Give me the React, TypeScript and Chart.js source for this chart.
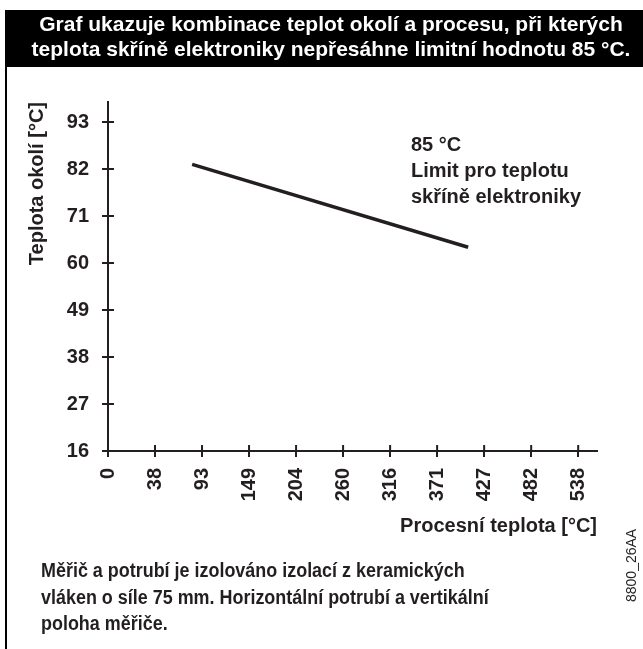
import React, { useEffect, useRef } from "react";
import { Chart, registerables } from "chart.js";

Chart.register(...registerables);

// ---- data ----
const xTickLabels = ["0", "38", "93", "149", "204", "260", "316", "371", "427", "482", "538"];
const yTickValues = [16, 27, 38, 49, 60, 71, 82, 93];
// limit line, x in tick-index units of the process-temperature axis, y in °C ambient
const limitLineX = [1.79, 7.66];
const limitLineY = [83.1, 63.7];

const headerLines = [
  "Graf ukazuje kombinace teplot okolí a procesu, při kterých",
  "teplota skříně elektroniky nepřesáhne limitní hodnotu 85 °C.",
];
const annotationLines = ["85 °C", "Limit pro teplotu", "skříně elektroniky"];
const noteLines = [
  "Měřič a potrubí je izolováno izolací z keramických",
  "vláken o síle 75 mm. Horizontální potrubí a vertikální",
  "poloha měřiče.",
];
const xAxisTitle = "Procesní teplota [°C]";
const yAxisTitle = "Teplota okolí [°C]";
const figureCode = "8800_26AA";

// ---- styles ----
const INK = "#231f20";
const FAMILY = "'Liberation Sans', Arial, Helvetica, sans-serif";

const decorPlugin = {
  id: "decor",
  afterDraw(chart: any) {
    const ctx = chart.ctx as CanvasRenderingContext2D;
    const xs = chart.scales.x;
    const ys = chart.scales.y;
    ctx.save();
    // inward halves of the tick marks
    ctx.strokeStyle = INK;
    ctx.lineWidth = 2;
    ctx.beginPath();
    yTickValues.forEach((v) => {
      const py = ys.getPixelForValue(v);
      ctx.moveTo(xs.left, py);
      ctx.lineTo(xs.left + 6, py);
    });
    xTickLabels.forEach((_, i) => {
      const px = xs.getPixelForValue(i);
      ctx.moveTo(px, ys.bottom);
      ctx.lineTo(px, ys.bottom - 6);
    });
    ctx.stroke();

    // header bar
    ctx.fillStyle = "#000";
    ctx.fillRect(5, 10, 643 - 5, 57);
    // left frame line
    ctx.fillRect(5, 10, 2, 649 - 10);

    ctx.fillStyle = "#fff";
    ctx.font = `bold 21px ${FAMILY}`;
    ctx.textAlign = "center";
    ctx.textBaseline = "alphabetic";
    ctx.fillText(headerLines[0], 331, 31);
    ctx.fillText(headerLines[1], 331, 56);

    // annotation
    ctx.fillStyle = INK;
    ctx.font = `bold 20px ${FAMILY}`;
    ctx.textAlign = "left";
    annotationLines.forEach((t, i) => ctx.fillText(t, 411, 151 + i * 26));

    // note (slightly condensed face)
    ctx.font = `bold 19.5px ${FAMILY}`;
    noteLines.forEach((t, i) => {
      ctx.save();
      ctx.translate(41, 577 + i * 26.5);
      ctx.scale(0.92, 1);
      ctx.fillText(t, 0, 0);
      ctx.restore();
    });

    // figure code
    ctx.font = `14px ${FAMILY}`;
    ctx.translate(636, 602);
    ctx.rotate(-Math.PI / 2);
    ctx.textAlign = "left";
    ctx.fillText(figureCode, 0, 0);
    ctx.restore();
  },
};

export default function App() {
  const ref = useRef<HTMLCanvasElement | null>(null);
  useEffect(() => {
    if (!ref.current) return;
    const tickFont = { family: FAMILY, size: 20, weight: "bold" as const };
    const chart = new Chart(ref.current, {
      type: "line",
      data: {
        datasets: [
          {
            data: limitLineX.map((x, i) => ({ x, y: limitLineY[i] })),
            borderColor: INK,
            borderWidth: 3.5,
            pointRadius: 0,
            fill: false,
            tension: 0,
            borderCapStyle: "butt",
          },
        ],
      },
      options: {
        responsive: false,
        animation: false,
        devicePixelRatio: 1,
        layout: { padding: { left: 0, right: 46, top: 102, bottom: 0 } },
        plugins: {
          legend: { display: false },
          tooltip: { enabled: false },
        },
        scales: {
          x: {
            type: "linear",
            min: 0,
            max: 10.4,
            afterBuildTicks: (s: any) => {
              s.ticks = xTickLabels.map((_, i) => ({ value: i }));
            },
            afterFit: (s: any) => {
              s.height = 198;
            },
            ticks: {
              autoSkip: false,
              minRotation: 90,
              maxRotation: 90,
              padding: 11,
              color: INK,
              font: tickFont,
              callback: (v: any) => xTickLabels[Math.round(Number(v))] ?? "",
            },
            grid: { display: true, drawOnChartArea: false, drawTicks: true, tickLength: 6, color: INK, lineWidth: 2 },
            border: { display: true, color: INK, width: 2 },
            title: {
              display: true,
              text: xAxisTitle,
              align: "end",
              color: INK,
              font: tickFont,
              padding: { top: 0, bottom: 111 },
            },
          },
          y: {
            type: "linear",
            min: 16,
            max: 97.7,
            afterBuildTicks: (s: any) => {
              s.ticks = yTickValues.map((v) => ({ value: v }));
            },
            afterFit: (s: any) => {
              s.width = 108;
            },
            ticks: {
              autoSkip: false,
              padding: 13,
              color: INK,
              font: tickFont,
            },
            grid: { display: true, drawOnChartArea: false, drawTicks: true, tickLength: 6, color: INK, lineWidth: 2 },
            border: { display: true, color: INK, width: 2 },
            title: {
              display: true,
              text: yAxisTitle,
              align: "end",
              color: INK,
              font: tickFont,
              padding: { top: 25, bottom: 0 },
            },
          },
        },
      },
      plugins: [decorPlugin],
    } as any);
    return () => chart.destroy();
  }, []);

  return (
    <div style={{ position: "fixed", left: 0, top: 0, width: 643, height: 649, background: "#fff" }}>
      <canvas ref={ref} width={643} height={649} style={{ display: "block", width: 643, height: 649 }} />
    </div>
  );
}
